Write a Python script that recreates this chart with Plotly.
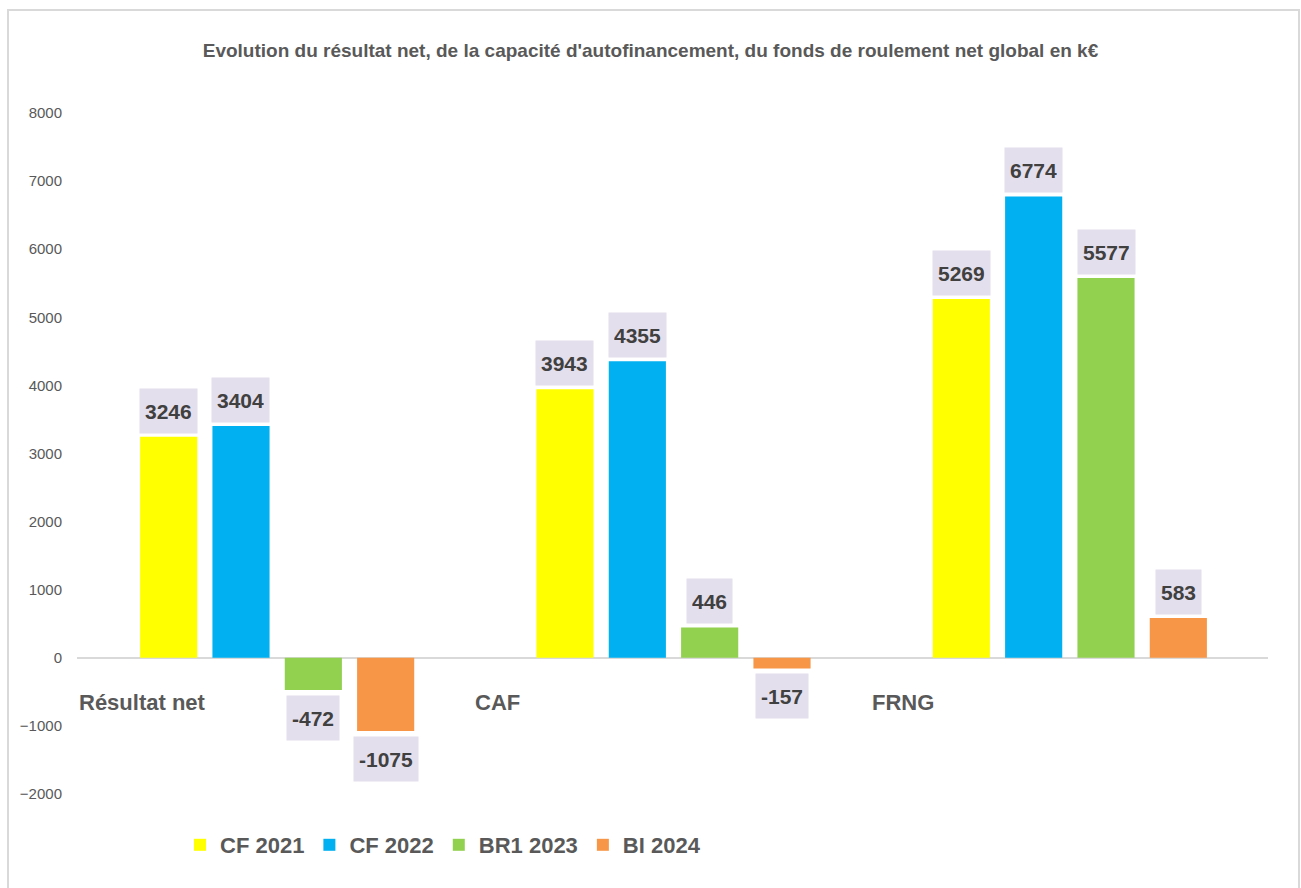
import plotly.graph_objects as go

categories = ["Résultat net", "CAF", "FRNG"]
series_names = ["CF 2021", "CF 2022", "BR1 2023", "BI 2024"]
cf2021 = [3246, 3943, 5269]
cf2022 = [3404, 4355, 6774]
br2023 = [-472, 446, 5577]
bi2024 = [-1075, -157, 583]
series_values = [cf2021, cf2022, br2023, bi2024]
colors = ["#FFFF00", "#00B0F0", "#92D050", "#F79646"]
y_ticks = [-2000, -1000, 0, 1000, 2000, 3000, 4000, 5000, 6000, 7000, 8000]

FONT = "Liberation Sans, Arial, sans-serif"
W, H = 1301, 888
ML, MR, MT, MB = 77, 33, 113, 94
BARGAP = 0.27
plot_w = W - ML - MR
plot_h = H - MT - MB
slot = plot_w / len(categories) * (1 - BARGAP) / len(series_names)

fig = go.Figure()
for name, vals, col in zip(series_names, series_values, colors):
    fig.add_trace(go.Bar(name="<b>%s</b>" % name, x=categories, y=vals,
                         marker=dict(color=col, line=dict(width=0))))

annotations = []
n = len(series_names)
for k, vals in enumerate(series_values):
    xs = (k - (n - 1) / 2) * slot
    for i, v in enumerate(vals):
        annotations.append(dict(
            x=categories[i], y=v, xref="x", yref="y", text="<b>%d</b>" % v,
            showarrow=False, xshift=xs,
            yanchor="bottom" if v >= 0 else "top",
            yshift=3 if v >= 0 else -5,
            height=34, valign="middle",
            bgcolor="#E4DFEC", borderpad=5,
            font=dict(family=FONT, size=21, color="#404040")))

for i, c in enumerate(categories):
    annotations.append(dict(
        x=i - 0.5, y=-660, xref="x", yref="y", text="<b>%s</b>" % c,
        showarrow=False, xanchor="left", yanchor="middle", xshift=-2,
        font=dict(family=FONT, size=22, color="#595959")))

fig.update_layout(
    width=W, height=H,
    margin=dict(l=ML, r=MR, t=MT, b=MB),
    paper_bgcolor="white", plot_bgcolor="white",
    barmode="group", bargap=BARGAP, bargroupgap=0.21,
    title=dict(text="<b>Evolution du résultat net, de la capacité d'autofinancement, du fonds de roulement net global en k€</b>",
               x=0.5, xref="container", y=1 - 50 / H, yref="container", yanchor="middle", xanchor="center",
               font=dict(family=FONT, size=19, color="#595959")),
    xaxis=dict(showticklabels=False, showgrid=False, showline=False, ticks=""),
    yaxis=dict(range=[-2000, 8000], tickvals=y_ticks, showgrid=False, showline=False,
               zeroline=True, zerolinecolor="#D9D9D9", zerolinewidth=2, ticks="",
               ticklabelstandoff=14,
               tickfont=dict(family=FONT, size=15, color="#595959")),
    legend=dict(orientation="h", x=(180 - ML) / plot_w, xanchor="left",
                y=-(845 - (H - MB)) / plot_h, yanchor="middle",
                itemwidth=30, traceorder="normal",
                font=dict(family=FONT, size=22, color="#595959")),
    annotations=annotations,
    shapes=[dict(type="rect", xref="paper", yref="paper",
                 x0=(8 - ML) / plot_w, x1=(1299 - ML) / plot_w,
                 y0=-(900 - (H - MB)) / plot_h, y1=1 + (MT - 10) / plot_h,
                 line=dict(color="#D9D9D9", width=2), fillcolor="rgba(0,0,0,0)", layer="below")],
)

fig.write_html("out.html")
